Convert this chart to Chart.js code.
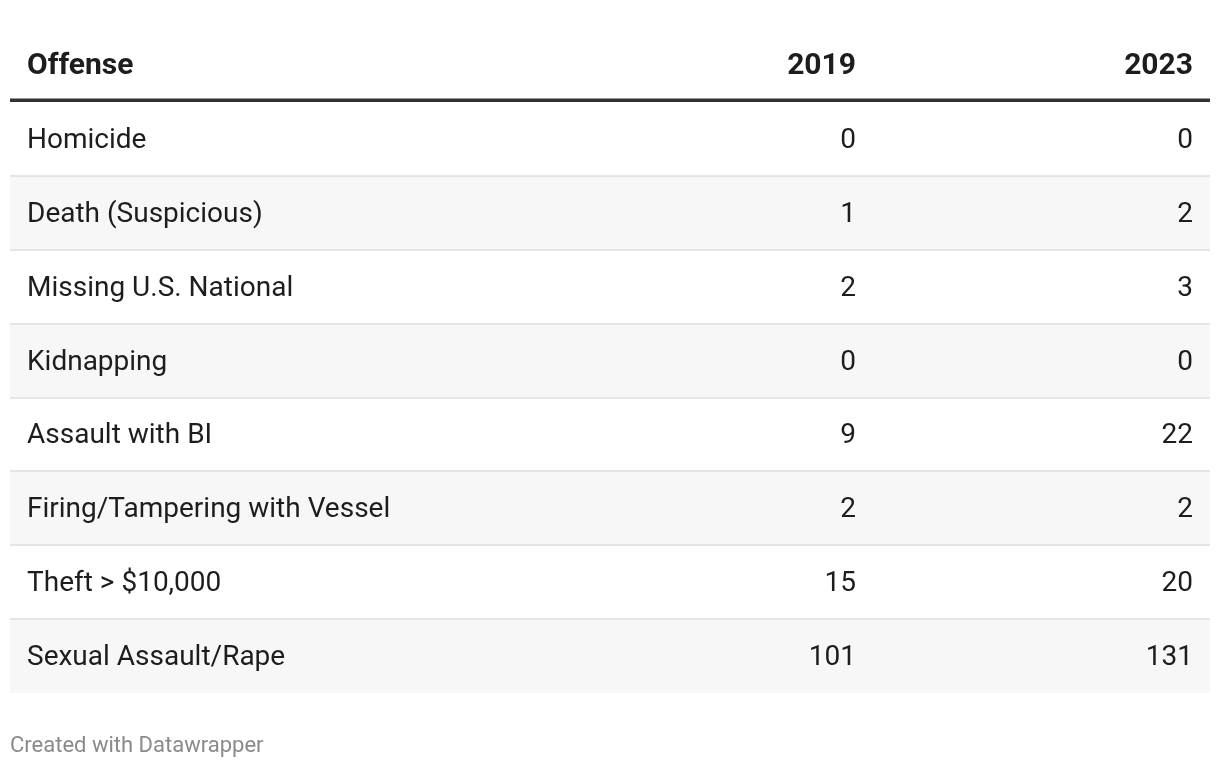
<!DOCTYPE html>
<html>
<head>
<meta charset="utf-8">
<script src="https://cdn.jsdelivr.net/npm/chart.js@4/dist/chart.umd.min.js"></script>
<style>
  html, body { margin: 0; padding: 0; background: #fff; }
  #wrap { width: 1220px; height: 768px; position: relative; }
</style>
</head>
<body>
<div id="wrap"><canvas id="table"></canvas></div>
<script>
// table data
const offenses = [
    'Homicide',
    'Death (Suspicious)',
    'Missing U.S. National',
    'Kidnapping',
    'Assault with BI',
    'Firing/Tampering with Vessel',
    'Theft > $10,000',
    'Sexual Assault/Rape',
];
const columns = ['Offense', '2019', '2023'];
const values2019 = [0, 1, 2, 0, 9, 2, 15, 101];
const values2023 = [0, 2, 3, 0, 22, 2, 20, 131];

const FONT = 'Roboto, "Noto Sans", sans-serif';

// ── 表格繪製插件 ──
const tablePlugin = {
    id: 'tableText',
    afterDatasetsDraw(chart) {
        const { ctx, chartArea, scales } = chart;
        const x = scales.x, y = scales.y;
        const colRight = [null, x.getPixelForValue(846), x.getPixelForValue(1183)];
        const textLeft = x.getPixelForValue(17);
        const half = (y.getPixelForValue(1) - y.getPixelForValue(0)) / 2;

        ctx.save();

        // row separators
        ctx.strokeStyle = '#e5e5e5';
        ctx.lineWidth = 2;
        for (let i = 0; i < offenses.length - 1; i++) {
            const yy = Math.round(y.getPixelForValue(i) + half);
            ctx.beginPath();
            ctx.moveTo(chartArea.left, yy);
            ctx.lineTo(chartArea.right, yy);
            ctx.stroke();
        }

        // header rule
        ctx.fillStyle = '#333333';
        ctx.fillRect(chartArea.left, chartArea.top - 3.5, chartArea.right - chartArea.left, 3.5);

        // header
        ctx.fillStyle = '#1d1d1d';
        ctx.font = 'bold 30px ' + FONT;
        ctx.textBaseline = 'alphabetic';
        ctx.textAlign = 'left';
        ctx.fillText(columns[0], textLeft, chartArea.top - 28.5);
        ctx.textAlign = 'right';
        ctx.fillText(columns[1], colRight[1], chartArea.top - 28.5);
        ctx.fillText(columns[2], colRight[2], chartArea.top - 28.5);

        // body
        ctx.font = '28px ' + FONT;
        offenses.forEach((name, i) => {
            const base = y.getPixelForValue(i) + 9;
            ctx.textAlign = 'left';
            ctx.fillText(name, textLeft, base);
            ctx.textAlign = 'right';
            ctx.fillText(String(values2019[i]), colRight[1], base);
            ctx.fillText(String(values2023[i]), colRight[2], base);
        });

        // footer
        ctx.fillStyle = '#8a8a8a';
        ctx.font = '22px ' + FONT;
        ctx.textAlign = 'left';
        ctx.fillText('Created with Datawrapper', chartArea.left, 752);

        ctx.restore();
    },
};

new Chart(document.getElementById('table'), {
    type: 'bar',
    data: {
        labels: offenses,
        datasets: [{
            // zebra stripes
            data: offenses.map((_, i) => (i % 2 === 1 ? [0, 1200] : null)),
            backgroundColor: '#f7f7f7',
            barPercentage: 1,
            categoryPercentage: 1,
            borderWidth: 0,
        }],
    },
    options: {
        indexAxis: 'y',
        responsive: true,
        maintainAspectRatio: false,
        animation: false,
        layout: { padding: { left: 10, right: 10, top: 102, bottom: 75 } },
        plugins: { legend: { display: false }, tooltip: { enabled: false } },
        scales: {
            x: { display: false, min: 0, max: 1200 },
            y: { display: false },
        },
    },
    plugins: [tablePlugin],
});
</script>
</body>
</html>
